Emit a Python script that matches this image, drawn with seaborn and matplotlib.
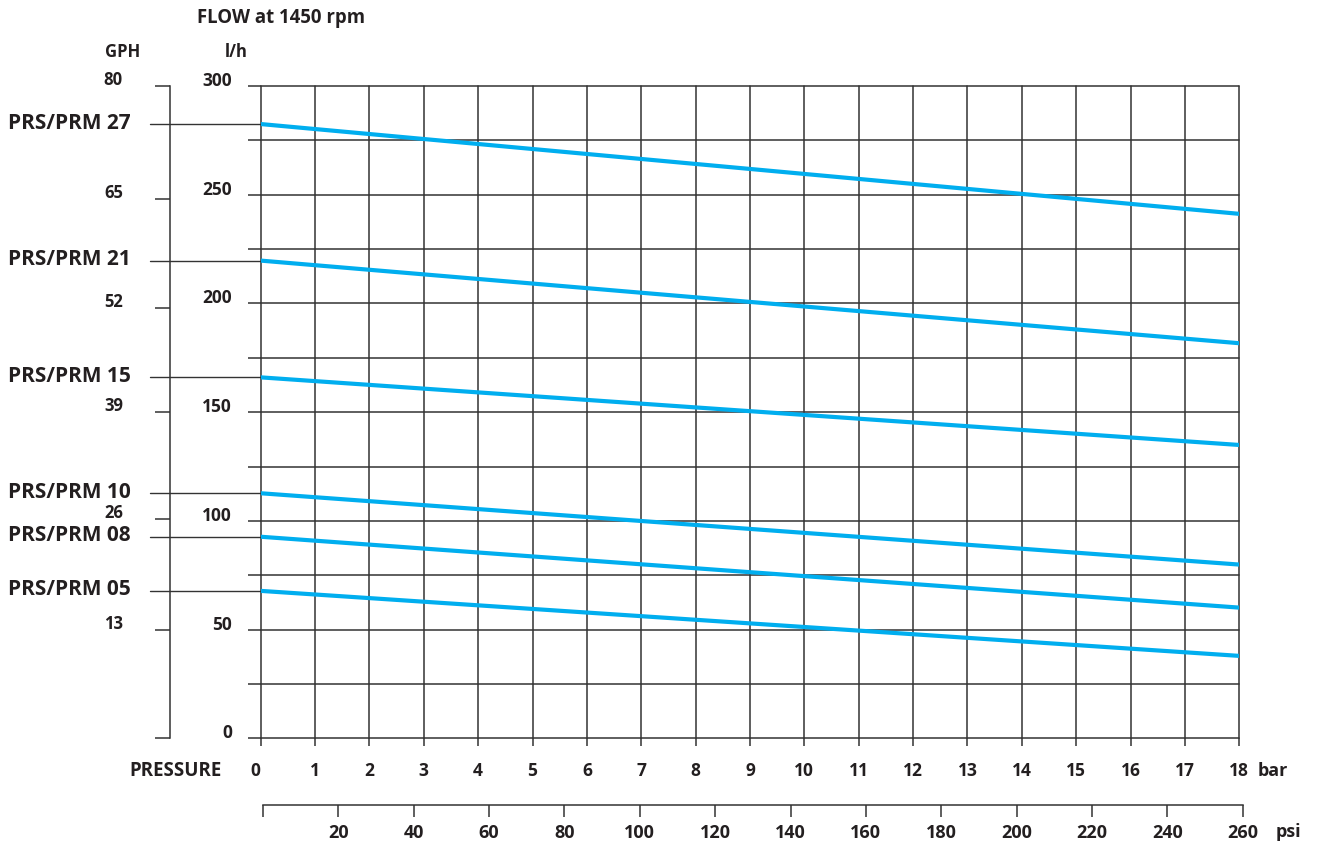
import matplotlib
matplotlib.use("Agg")
import matplotlib.pyplot as plt
import matplotlib.transforms as mtransforms
import pandas as pd
import seaborn as sns

# ---------------- data ----------------
pressure_bar = [0, 18]
series_names = ["PRS/PRM 27", "PRS/PRM 21", "PRS/PRM 15",
                "PRS/PRM 10", "PRS/PRM 08", "PRS/PRM 05"]
flow_27 = [282.5, 241.2]
flow_21 = [219.7, 181.7]
flow_15 = [166.0, 134.9]
flow_10 = [112.7, 79.9]
flow_08 = [92.7, 60.1]
flow_05 = [67.8, 37.9]
flows = [flow_27, flow_21, flow_15, flow_10, flow_08, flow_05]

bar_ticks = list(range(0, 19))
lh_grid = list(range(0, 301, 25))
lh_labels = list(range(0, 301, 50))
gph_labels = ["80", "65", "52", "39", "26", "13", ""]
gph_tick_lh = [300, 248, 198, 150, 101, 50, 0]
psi_ticks = list(range(0, 261, 20))

# ---------------- style ----------------
sns.set_style("white")
plt.rcParams['font.family'] = ['Open Sans', 'DejaVu Sans']
plt.rcParams['font.weight'] = 'bold'
TXT = '#231f20'
GRID = '#333333'
BLUE = '#00aeef'

W, H = 1317, 848
fig = plt.figure(figsize=(W / 100, H / 100), dpi=100)


def fx(px):
    return px / W


def fy(py):
    return 1 - py / H


x0, x1 = 260.7, 1239.3
y0, y1 = 86.0, 738.3
rect = [fx(x0), fy(y1), fx(x1) - fx(x0), fy(y0) - fy(y1)]
ax = fig.add_axes(rect)

rows = []
for name, fl in zip(series_names, flows):
    for p, f in zip(pressure_bar, fl):
        rows.append({"series": name, "bar": p, "flow": f})
df = pd.DataFrame(rows)

sns.lineplot(data=df, x="bar", y="flow", hue="series",
             palette=[BLUE] * len(series_names), legend=False,
             lw=3, ax=ax, zorder=3, solid_capstyle='butt')

ax.set_xlim(0, 18)
ax.set_ylim(0, 300)
ax.set_xlabel("")
ax.set_ylabel("")
ax.set_xticks(bar_ticks)
ax.set_xticklabels([str(b) for b in bar_ticks])
ax.set_yticks(lh_grid)
ax.set_yticklabels([])
ax.grid(True, color=GRID, lw=1.1, clip_on=False)
ax.set_axisbelow(True)
for s in ax.spines.values():
    s.set_visible(False)
ax.tick_params(axis='x', bottom=True, direction='out', length=5.8, width=1.1,
               color=GRID, pad=11, labelsize=12.5, labelcolor=TXT)
ax.tick_params(axis='y', left=True, direction='out', length=9.5, width=1.1,
               color=GRID, labelleft=False)
ax.get_xticklabels()[0].set_ha('right')
ax.patch.set_visible(False)

tr_lh = mtransforms.blended_transform_factory(fig.transFigure, ax.transData)

# l/h labels
for v in lh_labels:
    ax.text(fx(232), v, str(v), ha='right', va='center', fontsize=12.5,
            color=TXT, fontweight='bold',
            transform=mtransforms.offset_copy(tr_lh, fig=fig, y=5, units='dots'))

# series labels and leader lines
for name, fl in zip(series_names, flows):
    ax.plot([fx(150), fx(x0)], [fl[0], fl[0]], transform=tr_lh,
            color=GRID, lw=1.0, clip_on=False, zorder=2)
    ax.text(fx(8), fl[0], name, ha='left', va='center', fontsize=15,
            color=TXT, fontweight='bold',
            transform=mtransforms.offset_copy(tr_lh, fig=fig, y=1, units='dots'))

# GPH axis
ax_g = fig.add_axes(rect)
ax_g.set_ylim(0, 300)
ax_g.set_xticks([])
ax_g.patch.set_visible(False)
for k, s in ax_g.spines.items():
    s.set_visible(k == 'left')
ax_g.spines['left'].set_position(('outward', (x0 - 170) * 0.72))
ax_g.spines['left'].set_color(GRID)
ax_g.spines['left'].set_linewidth(1.1)
ax_g.set_yticks(gph_tick_lh)
ax_g.set_yticklabels([])
ax_g.tick_params(axis='y', left=True, direction='out', length=10.8, width=1.1,
                 color=GRID)
for lab, v in zip(gph_labels, gph_tick_lh):
    if lab:
        ax_g.text(fx(123), v, lab, ha='right', va='center', fontsize=12,
                  color=TXT, fontweight='bold',
                  transform=mtransforms.offset_copy(tr_lh, fig=fig, y=6,
                                                    units='dots'))

# psi axis
ax_p = fig.add_axes([fx(263), fy(805), fx(1242.7) - fx(263), 0.0001])
ax_p.set_xlim(0, 260)
ax_p.set_xticks(psi_ticks)
ax_p.set_xticklabels([""] + [str(t) for t in psi_ticks[1:]])
ax_p.set_yticks([])
ax_p.patch.set_visible(False)
for k, s in ax_p.spines.items():
    s.set_visible(k == 'bottom')
ax_p.spines['bottom'].set_color(GRID)
ax_p.spines['bottom'].set_linewidth(1.1)
ax_p.tick_params(axis='x', bottom=True, direction='out', length=8.6, width=1.1,
                 color=GRID, pad=5, labelsize=13, labelcolor=TXT)

# header / axis texts
fig.text(fx(197), fy(18), "FLOW at 1450 rpm", ha='left', va='center',
         fontsize=13.4, color=TXT, fontweight='bold')
fig.text(fx(105), fy(52), "GPH", ha='left', va='center',
         fontsize=12, color=TXT, fontweight='bold')
fig.text(fx(225), fy(52), "l/h", ha='left', va='center',
         fontsize=12, color=TXT, fontweight='bold')
fig.text(fx(222), fy(771), "PRESSURE", ha='right', va='center',
         fontsize=13.5, color=TXT, fontweight='bold')
fig.text(fx(1258), fy(771), "bar", ha='left', va='center',
         fontsize=13, color=TXT, fontweight='bold')
fig.text(fx(1276), fy(832), "psi", ha='left', va='center',
         fontsize=13, color=TXT, fontweight='bold')

fig.savefig("out.png", dpi=100)
